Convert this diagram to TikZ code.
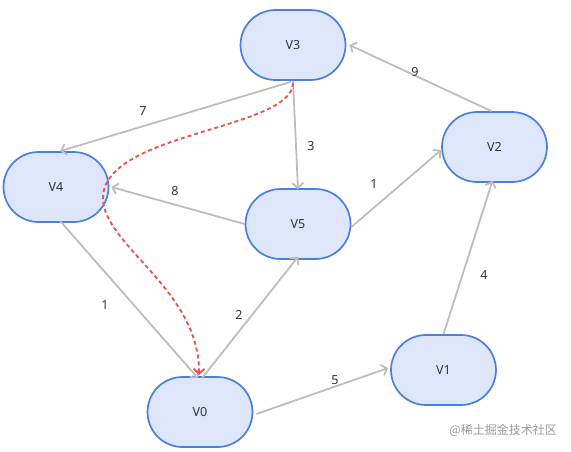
\documentclass[tikz,border=0pt]{standalone}
\usepackage{fontspec}
\setmainfont{Noto Sans}
\newfontfamily\cjk{Noto Sans CJK SC}
\usetikzlibrary{arrows.meta}
\definecolor{nodefill}{HTML}{DDE6FB}
\definecolor{nodeborder}{HTML}{4A7FE0}
\definecolor{edgegray}{HTML}{BDBDBD}
\definecolor{pathred}{HTML}{E8574E}
\definecolor{txt}{HTML}{333333}
\tikzset{
  vnode/.style={draw=nodeborder, fill=nodefill, line width=1.7pt,
    minimum width=105pt, minimum height=70pt, rounded corners=35pt,
    inner sep=0pt, text=txt, font=\fontsize{12.5}{14}\selectfont},
  edge/.style={draw=edgegray, line width=1.8pt,
    -{Straight Barb[length=5pt,width=11pt]}},
  wlabel/.style={text=txt, font=\fontsize{12.5}{14}\selectfont, inner sep=0pt},
  redpath/.style={draw=pathred, line width=1.9pt, dash pattern=on 4pt off 3pt,
    -{Straight Barb[length=5pt,width=11pt]}}
}
\begin{document}
\begin{tikzpicture}[x=1pt,y=-1pt]
\useasboundingbox (0,0) rectangle (571,451);
\node[vnode] (V3) at (293,45) {V3};
\node[vnode] (V2) at (494.5,147) {V2};
\node[vnode] (V4) at (56,187) {V4};
\node[vnode] (V5) at (298,224) {V5};
\node[vnode] (V1) at (443.5,370) {V1};
\node[vnode] (V0) at (200,412) {V0};

\draw[edge] (V3.south) ++(-2,1) coordinate (s37) -- ([xshift=4pt]V4.north);
\draw[edge] (V3.south) -- ([yshift=-1pt]V5.north);
\draw[edge] ([xshift=-3pt]V2.north) -- ([xshift=3pt]V3.east);
\draw[edge] ([yshift=-3pt]V5.east) -- ([yshift=-3pt]V2.west);
\draw[edge] (V5.west) -- ([xshift=2pt]V4.east);
\draw[edge] ([xshift=4pt,yshift=2pt]V4.south) -- ([xshift=-2pt,yshift=-2pt]V0.north);
\draw[edge] ([xshift=2pt,yshift=-2pt]V0.north) -- ([yshift=3pt]V5.south);
\draw[edge] ([xshift=3pt,yshift=-2pt]V0.east) -- ([xshift=-2pt,yshift=2pt]V1.west);
\draw[edge] (V1.north) -- ([xshift=-2pt,yshift=2pt]V2.south);

\node[wlabel] (l7) at (143,111) {7};
\node[wlabel] (l3) at (311,146) {3};
\node[wlabel] (l9) at (415,72) {9};
\node[wlabel] (l1a) at (374,184) {1};
\node[wlabel] (l8) at (175,191) {8};
\node[wlabel] (l1b) at (105,305) {1};
\node[wlabel] (l2) at (239,315) {2};
\node[wlabel] (l5) at (335,380) {5};
\node[wlabel] (l4) at (484,275) {4};

\coordinate (rs) at (293,83);
\coordinate (rm) at (103,198);
\coordinate (re) at (199,375);
\draw[redpath] (rs) .. controls (292,130) and (103,132) .. (rm)
  .. controls (103,245) and (200,290) .. (re);

\node[anchor=east, text=black!40, font=\cjk\fontsize{12}{14}\selectfont, inner sep=0pt] (wm) at (557,430) {@稀土掘金技术社区};
\end{tikzpicture}
\end{document}
